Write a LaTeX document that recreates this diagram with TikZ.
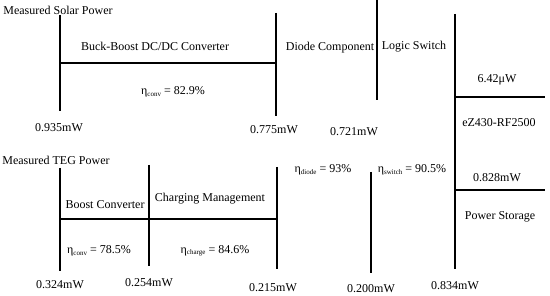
\documentclass[tikz,border=0pt]{standalone}
\usepackage{fontspec}
\setmainfont{Liberation Serif}
\usetikzlibrary{positioning}
\newcommand{\effsub}[1]{\raisebox{-1.5pt}{\fontsize{7}{8}\selectfont #1}}

\begin{document}
\begin{tikzpicture}[x=1pt,y=-1pt,
  lbl/.style={font=\fontsize{12}{14}\selectfont,inner sep=0pt},
  wire/.style={line width=1.5pt}]
  \useasboundingbox (0,0) rectangle (550,296);

  % solar branch
  \node[lbl] (solar) at (58,10) {Measured Solar Power};
  \node[lbl] (buckboost) at (155,46) {Buck-Boost DC/DC Converter};
  \node[lbl] (etabb) at (173,92) {η\effsub{conv} = 82.9\%};
  \node[lbl] (psolarin) at (59,128) {0.935mW};
  \node[lbl] (psolarout) at (274,130) {0.775mW};
  \draw[wire] (60,15) -- (60,111);
  \draw[wire] (60,63) -- (276,63);
  \draw[wire] (276,13) -- (276,116);

  % diode and switch
  \node[lbl] (diode) at (330,48) {Diode Component};
  \node[lbl] (switch) at (414,47) {Logic Switch};
  \node[lbl] (pdiode) at (354,132) {0.721mW};
  \draw[wire] (377,0) -- (377,100);
  \node[lbl] (etadiode) at (323,170) {η\effsub{diode} = 93\%};
  \node[lbl] (etaswitch) at (412,170) {η\effsub{switch} = 90.5\%};
  \node[lbl] (pswitch) at (371,289) {0.200mW};
  \draw[wire] (371,172) -- (371,273);

  % load side
  \node[lbl] (pnode) at (497,80) {6.42μW};
  \node[lbl] (ez430) at (499,123) {eZ430-RF2500};
  \node[lbl] (pstore) at (497,178) {0.828mW};
  \node[lbl] (storage) at (500,217) {Power Storage};
  \node[lbl] (ptotal) at (455,286) {0.834mW};
  \draw[wire] (455,14) -- (455,269);
  \draw[wire] (455,97) -- (545,97);
  \draw[wire] (455,190) -- (545,190);

  % TEG branch
  \node[lbl] (teg) at (56,160) {Measured TEG Power};
  \node[lbl] (boost) at (105,205) {Boost Converter};
  \node[lbl] (charging) at (210,199) {Charging Management};
  \node[lbl] (etaboost) at (99,251) {η\effsub{conv} = 78.5\%};
  \node[lbl] (etacharge) at (215,251) {η\effsub{charge} = 84.6\%};
  \node[lbl] (ptegin) at (60,285) {0.324mW};
  \node[lbl] (pboost) at (149,283) {0.254mW};
  \node[lbl] (pcharge) at (273,288) {0.215mW};
  \draw[wire] (60,168) -- (60,271);
  \draw[wire] (149,165) -- (149,266);
  \draw[wire] (60,219) -- (277,219);
  \draw[wire] (277,167) -- (277,269);
\end{tikzpicture}
\end{document}
